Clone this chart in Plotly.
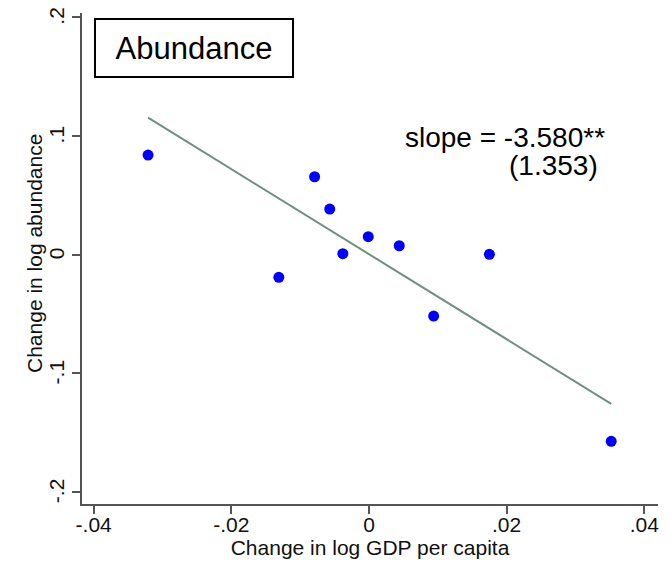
import numpy as np
import plotly.graph_objects as go

# Data
gdp_change = [-0.0321, -0.0131, -0.0079, -0.0057, -0.0038, -0.0001, 0.0044, 0.0094, 0.0175, 0.0352]
abundance_change = [0.0838, -0.0192, 0.0655, 0.0383, 0.0007, 0.0150, 0.0074, -0.0518, 0.0002, -0.1573]
fit_slope = -3.580
fit_intercept = 0.0003
fit_se = 1.353

x_tickvals = [-0.04, -0.02, 0.0, 0.02, 0.04]
x_ticktext = ["-.04", "-.02", "0", ".02", ".04"]
y_tickvals = [-0.2, -0.1, 0.0, 0.1, 0.2]
y_ticktext = ["-.2", "-.1", "0", ".1", ".2"]

OFF = 8  # page body margin offset
W, H = 671 - OFF, 562 - OFF
L, R, T, B = 82 - OFF, 13, 13 - OFF, 58
pw, ph = W - L - R, H - T - B


def px(xs_):
    return (xs_ - OFF - L) / pw


def py(ys_):
    return (H - B - (ys_ - OFF)) / ph


xs = np.array([min(gdp_change), max(gdp_change)])
ys = fit_intercept + fit_slope * xs

FONT = "Liberation Sans, Arial, sans-serif"
AX = "#555555"

fig = go.Figure()
fig.add_trace(go.Scatter(x=xs, y=ys, mode="lines",
                         line=dict(color="#6f8f80", width=2), showlegend=False))
fig.add_trace(go.Scatter(x=gdp_change, y=abundance_change, mode="markers",
                         marker=dict(color="#0000ff", size=11, line=dict(width=0)),
                         showlegend=False))

fig.update_layout(
    width=W, height=H,
    margin=dict(l=L, r=R, t=T, b=B, autoexpand=False),
    paper_bgcolor="white", plot_bgcolor="white",
    font=dict(family=FONT, size=21, color="#111111"),
    xaxis=dict(range=[-0.0417, 0.0420], tickvals=x_tickvals, ticktext=x_ticktext,
               showline=True, linecolor=AX, linewidth=1.5, ticks="outside",
               ticklen=8, tickwidth=1.5, tickcolor=AX, showgrid=False, zeroline=False,
               tickfont=dict(size=21), automargin=False, ticklabelstandoff=-7,
               ticklabeloverflow="allow",
               title=dict(text="Change in log GDP per capita", font=dict(size=21), standoff=2)),
    yaxis=dict(range=[-0.2101, 0.2034], tickvals=y_tickvals, ticktext=y_ticktext,
               showline=True, linecolor=AX, linewidth=1.5, ticks="outside",
               ticklen=8, tickwidth=1.5, tickcolor=AX, showgrid=False, zeroline=False,
               tickangle=-90, tickfont=dict(size=21), automargin=False,
               ticklabeloverflow="allow", ticklabelshift=2),
)

fig.add_annotation(xref="paper", yref="paper", x=px(34), y=py(254),
                   xanchor="center", yanchor="middle", textangle=-90,
                   text="Change in log abundance", showarrow=False,
                   font=dict(size=21, color="#111111"))
fig.add_annotation(xref="paper", yref="paper", x=px(194), y=py(48),
                   xanchor="center", yanchor="middle", text="Abundance",
                   showarrow=False, font=dict(size=31, color="black"),
                   bordercolor="black", borderwidth=2, borderpad=5,
                   width=186, height=46, align="center")
fig.add_annotation(xref="paper", yref="paper", x=px(607), y=py(137),
                   xanchor="right", yanchor="middle",
                   text="slope = %.3f**" % fit_slope,
                   showarrow=False, font=dict(size=28, color="black"))
fig.add_annotation(xref="paper", yref="paper", x=px(600), y=py(166),
                   xanchor="right", yanchor="middle",
                   text="(%.3f)" % fit_se,
                   showarrow=False, font=dict(size=28, color="black"))

fig.write_html("out.html")
